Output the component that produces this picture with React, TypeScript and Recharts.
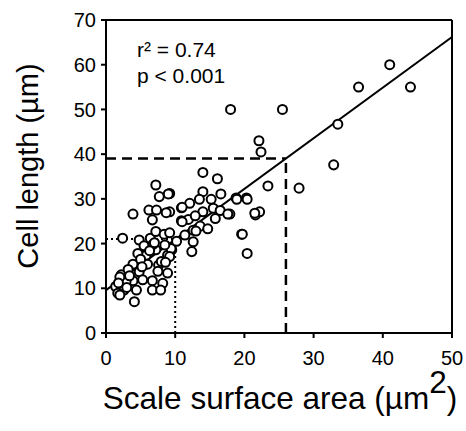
import { ScatterChart, Scatter, XAxis, YAxis, ZAxis, ReferenceLine } from "recharts";

const font = "Liberation Sans, Arial, sans-serif";

const xTicks = [0, 10, 20, 30, 40, 50];
const yTicks = [0, 10, 20, 30, 40, 50, 60, 70];

// scale surface area (µm²)
const areaValues = [
  41, 44, 36.5, 33.5, 32.9, 27.9, 25.5, 18, 22.1, 22.4, 23.4, 18.8, 20.3, 17.9, 21.6, 22.2, 19.6, 20.4,
  14, 16.1, 9.2, 14, 16.6, 13.5, 15.2, 12.1, 10.9, 14, 15.5, 16.5, 17.6, 18.9, 20.4, 21.5,
  10.9, 11.9, 12.6, 13.6, 14.7, 11.4, 12.6, 12.4, 9.5, 19.7, 9.2,
  7.2, 7.7, 9, 6.2, 7.3, 8.7, 3.9, 6.7, 11, 11, 2.4, 4.8, 6.4, 7.2, 8.4,
  5.8, 4.6, 7.2, 8.9, 9.4, 3.9, 6, 7.6, 8.9, 4.8, 2.2, 3.9, 5.3, 6.7, 8.2,
  1.4, 2.6, 4.4, 6.7, 7.9, 4.1, 2.9, 1.7, 2, 2, 3, 9.2, 8.5, 9.2, 5.5, 6.8, 5, 7.5, 3.2, 8,
  1.8, 3.4, 5.2, 6.3, 7, 8.6, 10.2, 13, 15.8, 12.9,
];

// cell length (µm)
const lengthValues = [
  60, 55, 55, 46.7, 37.6, 32.4, 50, 50, 43, 40.5, 32.9, 30.2, 30.2, 26.6, 26.4, 27.1, 22.1, 17.8,
  35.9, 34.5, 31.2, 31.6, 31.1, 29.9, 29.9, 29, 28, 27.1, 27.9, 27.4, 26.6, 29.9, 29.9, 26.8,
  25.1, 25.4, 23, 23.9, 23.3, 21.9, 20.4, 18.2, 18.6, 22.1, 27.1,
  33.1, 30.5, 31.1, 27.5, 27.5, 26.9, 26.6, 25.3, 28.1, 24.9, 21.2, 20.8, 21.2, 22.7, 22.1,
  17.4, 17.8, 18.6, 17.4, 18.9, 15.4, 15.4, 15.2, 13.4, 13.7, 13, 11.7, 11.9, 11.7, 11.1,
  10.4, 9.6, 9.6, 9.6, 9.6, 7, 11.5, 8.9, 12.5, 8.5, 10.2, 17.1, 19.7, 22.4, 19.5, 19.8, 16.5, 13.8, 14.2, 16,
  11.2, 12.8, 14.8, 18.4, 20.2, 15.8, 20.5, 22.8, 25.6, 26.2,
];

const points = areaValues.map((x, i) => ({ x, y: lengthValues[i] }));

const fitStart = { x: 0, y: 9.6 };
const fitEnd = { x: 50, y: 66.2 };
const fitMark = { x: 26, y: 39 };
const dotMark = { x: 10, y: 21 };

const axisLine = { stroke: "#000", strokeWidth: 2 };
const tickStyle = { fill: "#000", fontSize: 20, fontFamily: font };

export default function App() {
  return (
    <div style={{ position: "absolute", left: 0, top: 0, background: "#fff" }}>
      <ScatterChart width={466} height={431} margin={{ top: 20, right: 14, bottom: 0, left: 46 }}>
        <XAxis
          type="number"
          dataKey="x"
          domain={[0, 50]}
          ticks={xTicks}
          interval={0}
          height={98}
          tickSize={5}
          tickMargin={13}
          axisLine={axisLine}
          tickLine={axisLine}
          tick={tickStyle}
          label={() => (
            <text x={280} y={409} textAnchor="middle" fontSize={31.5} fontFamily={font} fill="#000">
              Scale surface area (µm<tspan dy={-16}>2</tspan>
              <tspan dy={16}>)</tspan>
            </text>
          )}
        />
        <YAxis
          type="number"
          dataKey="y"
          domain={[0, 70]}
          ticks={yTicks}
          interval={0}
          width={60}
          tickSize={5}
          tickMargin={5}
          axisLine={axisLine}
          tickLine={axisLine}
          tick={tickStyle}
          label={() => (
            <text
              x={38}
              y={166}
              transform="rotate(-90 38 166)"
              textAnchor="middle"
              fontSize={29}
              fontFamily={font}
              fill="#000"
            >
              Cell length (µm)
            </text>
          )}
        />
        <ZAxis range={[72, 72]} />
        <ReferenceLine y={70} stroke="#000" strokeWidth={2} />
        <ReferenceLine x={50} stroke="#000" strokeWidth={2} />
        <ReferenceLine segment={[{ x: 0, y: fitMark.y }, fitMark]} stroke="#000" strokeWidth={2.5} strokeDasharray="10 6" />
        <ReferenceLine segment={[{ x: fitMark.x, y: 0 }, fitMark]} stroke="#000" strokeWidth={2.5} strokeDasharray="10 6" />
        <ReferenceLine segment={[{ x: dotMark.x, y: 0 }, dotMark]} stroke="#000" strokeWidth={2} strokeDasharray="2 3" />
        <ReferenceLine segment={[{ x: 0, y: dotMark.y }, dotMark]} stroke="#000" strokeWidth={2} strokeDasharray="2 3" />
        <ReferenceLine segment={[fitStart, fitEnd]} stroke="#000" strokeWidth={2} />
        <Scatter data={points} fill="#fff" stroke="#000" strokeWidth={2} isAnimationActive={false} />
        <text x={137} y={57} fontSize={21} fontFamily={font} fill="#000">
          r² = 0.74
        </text>
        <text x={137} y={83} fontSize={21} fontFamily={font} fill="#000">
          p &lt; 0.001
        </text>
      </ScatterChart>
    </div>
  );
}
